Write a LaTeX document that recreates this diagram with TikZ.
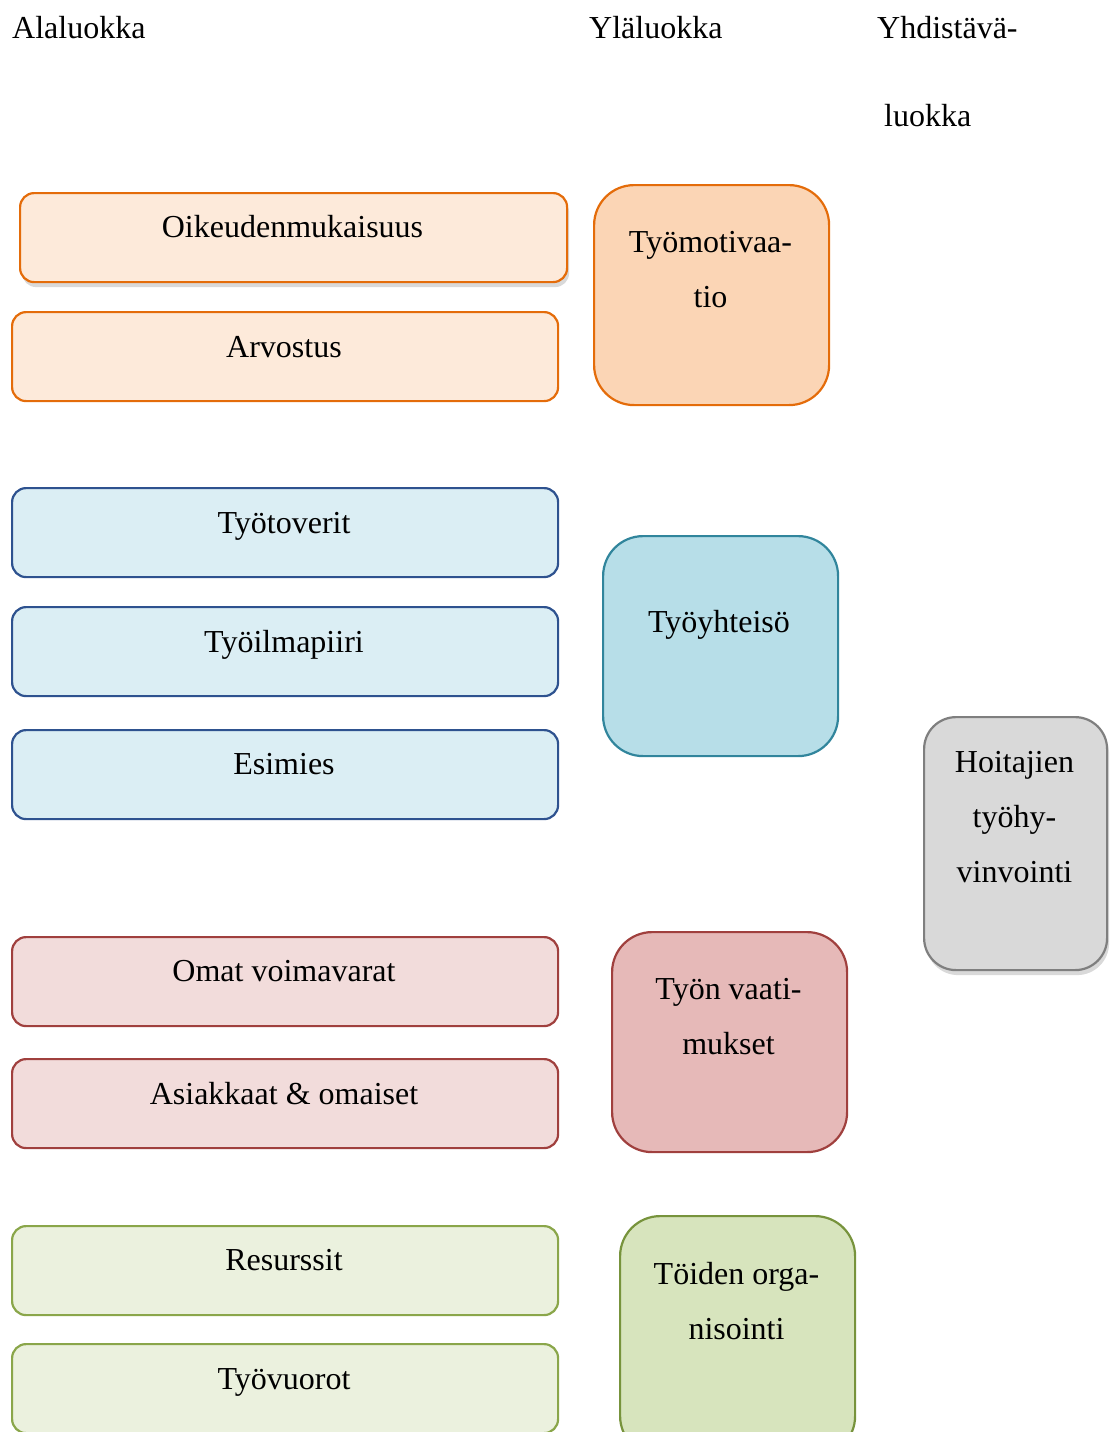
\documentclass[tikz,border=0pt]{standalone}
\usepackage{fontspec}
\setmainfont{Liberation Serif}
\usetikzlibrary{shadows}
\definecolor{orB}{HTML}{E46C0A}
\definecolor{orL}{HTML}{FDEADA}
\definecolor{orD}{HTML}{FBD5B5}
\definecolor{blB}{HTML}{2E528F}
\definecolor{blL}{HTML}{DBEEF4}
\definecolor{blRB}{HTML}{31859C}
\definecolor{blD}{HTML}{B7DEE8}
\definecolor{rdB}{HTML}{A0403E}
\definecolor{rdL}{HTML}{F2DCDB}
\definecolor{rdD}{HTML}{E6B9B8}
\definecolor{gnB}{HTML}{8AA64A}
\definecolor{gnRB}{HTML}{77933C}
\definecolor{gnL}{HTML}{EBF1DE}
\definecolor{gnD}{HTML}{D7E4BD}
\definecolor{gyB}{HTML}{7F7F7F}
\definecolor{gyD}{HTML}{D9D9D9}
\tikzset{
  box/.style={draw, line width=2.2pt, inner sep=0pt, anchor=north west},
  leftbox/.style={box, rounded corners=14pt, minimum width=546pt, minimum height=89pt},
  rightbox/.style={box, rounded corners=40pt, minimum width=235pt, minimum height=220pt},
  txt/.style={font=\fontsize{32}{55}\selectfont, align=center, inner sep=0pt},
  btxt/.style={txt, anchor=base},
  head/.style={font=\fontsize{32}{38}\selectfont, inner sep=0pt, anchor=base west},
  shad/.style={drop shadow={shadow xshift=2pt, shadow yshift=-5pt, opacity=0.3, fill=gray}}
}
\begin{document}
\begin{tikzpicture}[x=1pt,y=-1pt]
\useasboundingbox (0,0) rectangle (1111,1432);
% headers
\node[head] (h1) at (12,38.5) {Alaluokka};
\node[head] (h2) at (589,38.5) {Yläluokka};
\node[head] (h3) at (877,38.5) {Yhdistävä-};
\node[head] (h4) at (884,126.5) {luokka};
% left boxes
\node[leftbox, draw=orB, fill=orL, shad, minimum width=547pt] (b1) at (19,192) {};
\node[btxt] (t1) at (292.5,237.5) {Oikeudenmukaisuus};
\node[leftbox, draw=orB, fill=orL] (b2) at (11,311) {};
\node[btxt] (t2) at (284,357.5) {Arvostus};
\node[leftbox, draw=blB, fill=blL] (b3) at (11,487) {};
\node[btxt] (t3) at (284,533.5) {Työtoverit};
\node[leftbox, draw=blB, fill=blL] (b4) at (11,606) {};
\node[btxt] (t4) at (284,652.5) {Työilmapiiri};
\node[leftbox, draw=blB, fill=blL] (b5) at (11,729) {};
\node[btxt] (t5) at (284,774.5) {Esimies};
\node[leftbox, draw=rdB, fill=rdL] (b6) at (11,936) {};
\node[btxt] (t6) at (284,981.5) {Omat voimavarat};
\node[leftbox, draw=rdB, fill=rdL] (b7) at (11,1058) {};
\node[btxt] (t7) at (284,1104.5) {Asiakkaat \& omaiset};
\node[leftbox, draw=gnB, fill=gnL] (b8) at (11,1225) {};
\node[btxt] (t8) at (284,1270.5) {Resurssit};
\node[leftbox, draw=gnB, fill=gnL] (b9) at (11,1343) {};
\node[btxt] (t9) at (284,1389.5) {Työvuorot};
% right boxes
\node[rightbox, draw=orB, fill=orD] (r1) at (593,184) {};
\node[txt, anchor=north] (s1) at (710.5,231) {Työmotivaa-\\tio};
\node[rightbox, draw=blRB, fill=blD] (r2) at (602,535) {};
\node[btxt] (s2) at (719,632.5) {Työyhteisö};
\node[rightbox, draw=rdB, fill=rdD] (r3) at (611,931) {};
\node[txt, anchor=north] (s3) at (728.5,978) {Työn vaati-\\mukset};
\node[rightbox, draw=gnRB, fill=gnD, minimum height=240pt] (r4) at (619,1215) {};
\node[txt, anchor=north] (s4) at (736.5,1262) {Töiden orga-\\nisointi};
% combined
\node[box, rounded corners=32pt, draw=gyB, fill=gyD, shad, minimum width=183pt, minimum height=253pt] (r5) at (923,716) {};
\node[txt, anchor=north] (s5) at (1014.5,751) {Hoitajien\\työhy-\\vinvointi};
\end{tikzpicture}
\end{document}
